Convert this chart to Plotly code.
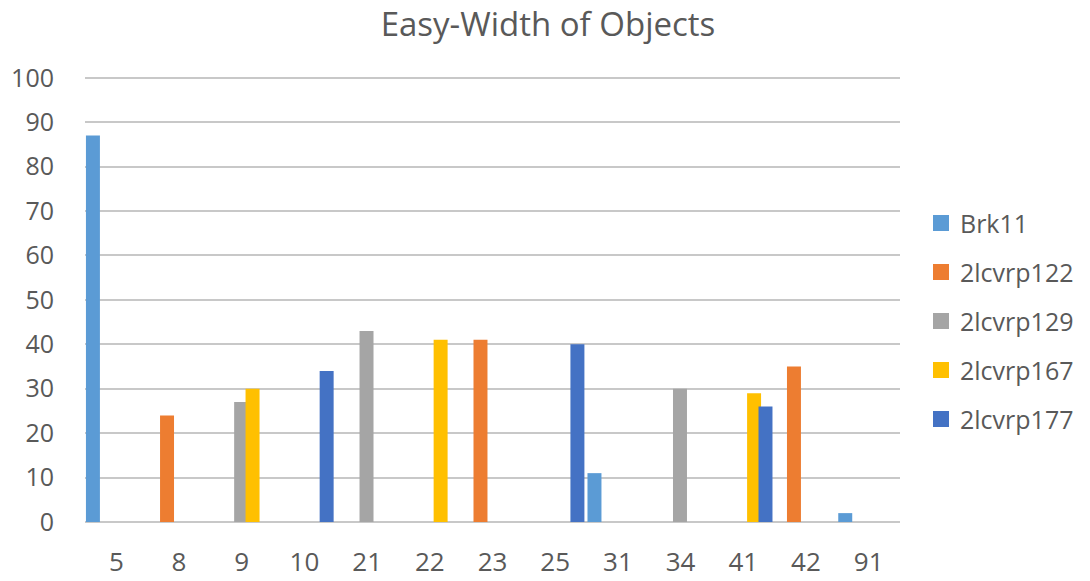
import plotly.graph_objects as go

# Object widths (category labels on the x axis)
categories = ["5", "8", "9", "10", "21", "22", "23", "25", "31", "34", "41", "42", "91"]

series_names = ["Brk11", "2lcvrp122", "2lcvrp129", "2lcvrp167", "2lcvrp177"]

brk11 =      [87, 0, 0, 0, 0, 0, 0, 0, 11, 0, 0, 0, 2]
lcvrp122 =   [0, 24, 0, 0, 0, 0, 41, 0, 0, 0, 0, 35, 0]
lcvrp129 =   [0, 0, 27, 0, 43, 0, 0, 0, 0, 30, 0, 0, 0]
lcvrp167 =   [0, 0, 30, 0, 0, 41, 0, 0, 0, 0, 29, 0, 0]
lcvrp177 =   [0, 0, 0, 34, 0, 0, 0, 40, 0, 0, 26, 0, 0]

y_ticks = [0, 10, 20, 30, 40, 50, 60, 70, 80, 90, 100]

series_values = [brk11, lcvrp122, lcvrp129, lcvrp167, lcvrp177]
colors = ["#5B9BD5", "#ED7D31", "#A5A5A5", "#FFC000", "#4472C4"]

text_color = "#595959"
font_family = "Open Sans, Liberation Sans, sans-serif"

# Figure geometry (pixels)
W, H = 1090, 581
M_L, M_R, M_T, M_B = 85, 190, 76, 59
plot_w = W - M_L - M_R
plot_h = H - M_T - M_B

# Excel-style clustered bars that slightly overlap each other
bar_width = 0.223
step = 0.182
start = -0.485

fig = go.Figure()
for i, (name, vals, col) in enumerate(zip(series_names, series_values, colors)):
    fig.add_trace(go.Bar(
        x=categories,
        y=vals,
        name=name,
        marker=dict(color=col, line=dict(width=0)),
        width=bar_width,
        offset=start + i * step,
        showlegend=False,
    ))

# Legend on the right: colour square + series name
def px_x(px):
    return (px - M_L) / plot_w

def px_y(py):
    return (H - M_B - py) / plot_h

legend_top = 223
legend_gap = 49
square = 16
shapes = []
annotations = []
for i, (name, col) in enumerate(zip(series_names, colors)):
    cy = legend_top + i * legend_gap
    shapes.append(dict(
        type="rect", xref="paper", yref="paper",
        x0=px_x(933), x1=px_x(933 + square),
        y0=px_y(cy + square / 2), y1=px_y(cy - square / 2),
        fillcolor=col, line=dict(width=0),
    ))
    annotations.append(dict(
        text=name, xref="paper", yref="paper",
        x=px_x(958), y=px_y(cy), xanchor="left", yanchor="middle",
        showarrow=False, font=dict(size=25, color=text_color),
    ))

fig.update_layout(
    barmode="overlay",
    width=W,
    height=H,
    margin=dict(l=M_L, r=M_R, t=M_T, b=M_B, autoexpand=False),
    paper_bgcolor="white",
    plot_bgcolor="white",
    font=dict(family=font_family, color=text_color, size=25),
    title=dict(
        text="Easy-Width of Objects",
        x=(548 / W),
        xanchor="center",
        y=1 - 24 / H,
        yanchor="middle",
        font=dict(size=33, color=text_color),
        automargin=False,
    ),
    xaxis=dict(
        type="category",
        categoryorder="array",
        categoryarray=categories,
        range=[-0.5, len(categories) - 0.5],
        showgrid=False,
        showline=False,
        ticks="",
        ticklabelstandoff=22,
        tickfont=dict(size=26, color=text_color),
        automargin=False,
        fixedrange=True,
    ),
    yaxis=dict(
        range=[0, 100.4],
        tickvals=y_ticks,
        showgrid=True,
        gridcolor="#C8C8C8",
        gridwidth=2,
        zeroline=True,
        zerolinecolor="#C8C8C8",
        zerolinewidth=2,
        showline=False,
        ticks="",
        ticklabelstandoff=30,
        tickfont=dict(size=25, color=text_color),
        automargin=False,
    ),
    shapes=shapes,
    annotations=annotations,
    showlegend=False,
)

fig.write_html("out.html")
